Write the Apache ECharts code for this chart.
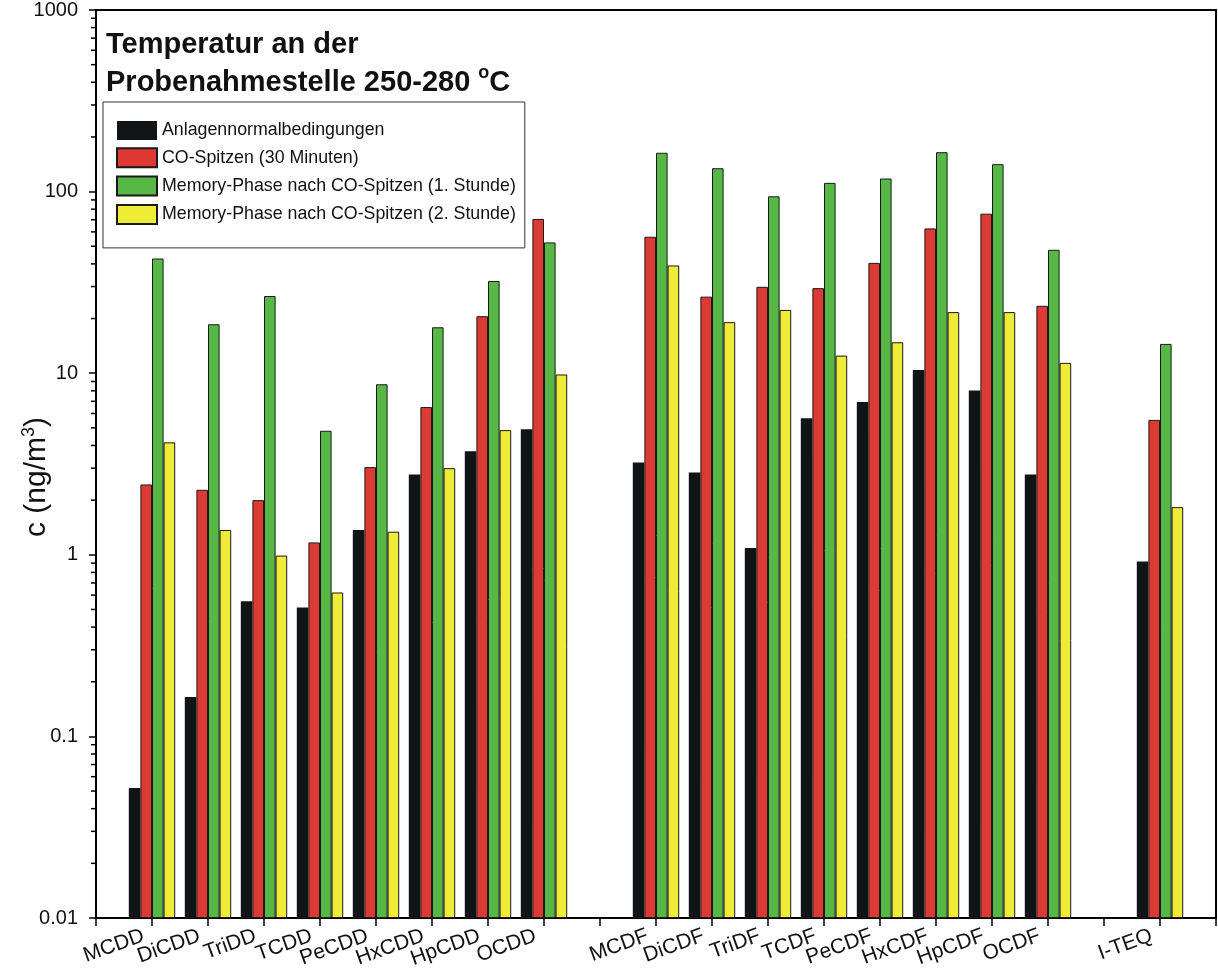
<!DOCTYPE html>
<html>
<head>
<meta charset="utf-8">
<script src="https://cdn.jsdelivr.net/npm/echarts@6/dist/echarts.min.js"></script>
<style>
html,body{margin:0;padding:0;background:#fff;}
#chart{width:1218px;height:977px;}
</style>
</head>
<body>
<div id="chart"></div>
<script>
// Categories (blank entries are spacer slots between the groups)
const categories = [' ', 'MCDD', 'DiCDD', 'TriDD', 'TCDD', 'PeCDD', 'HxCDD', 'HpCDD', 'OCDD', '  ',
  'MCDF', 'DiCDF', 'TriDF', 'TCDF', 'PeCDF', 'HxCDF', 'HpCDF', 'OCDF', '   ', 'I-TEQ', '    '];

const seriesNames = [
  'Anlagennormalbedingungen',
  'CO-Spitzen (30 Minuten)',
  'Memory-Phase nach CO-Spitzen (1. Stunde)',
  'Memory-Phase nach CO-Spitzen (2. Stunde)'
];

// values in ng/m3
const normal  = [null, 0.052, 0.165, 0.555, 0.512, 1.37, 2.77, 3.72, 4.91, null,
  3.22, 2.84, 1.09, 5.64, 6.94, 10.4, 8.02, 2.77, null, 0.92, null];
const coPeak  = [null, 2.44, 2.28, 2.0, 1.17, 3.04, 6.51, 20.6, 70.7, null,
  56.4, 26.4, 29.9, 29.4, 40.5, 62.7, 75.6, 23.5, null, 5.53, null];
const memory1 = [null, 42.8, 18.6, 26.6, 4.82, 8.69, 17.9, 32.2, 52.5, null,
  163.6, 134.5, 94.2, 111.7, 118, 164.8, 141.6, 47.8, null, 14.5, null];
const memory2 = [null, 4.16, 1.37, 0.99, 0.62, 1.34, 3.0, 4.86, 9.84, null,
  39.2, 19.1, 22.3, 12.5, 14.8, 21.7, 21.7, 11.4, null, 1.83, null];

// minor tick positions of the logarithmic y axis
const minorTicks = [0.02, 0.03, 0.04, 0.05, 0.06, 0.07, 0.08, 0.09,
  0.2, 0.3, 0.4, 0.5, 0.6, 0.7, 0.8, 0.9,
  2, 3, 4, 5, 6, 7, 8, 9,
  20, 30, 40, 50, 60, 70, 80, 90,
  200, 300, 400, 500, 600, 700, 800, 900];

const colors = ['#101417', '#de3a33', '#57b846', '#efec37'];
const valueSets = [normal, coPeak, memory1, memory2];

const FONT = 'Liberation Sans, Arial, Helvetica, sans-serif';

const chart = echarts.init(document.getElementById('chart'), null, {renderer: 'canvas'});

const barSeries = valueSets.map((vals, i) => ({
  name: seriesNames[i],
  type: 'bar',
  data: vals,
  barWidth: 11.6,
  barGap: '0%',
  itemStyle: {
    color: colors[i],
    borderColor: i === 0 ? colors[0] : '#1a1a1a',
    borderWidth: i === 0 ? 0 : 1
  },
  emphasis: {disabled: true}
}));

const option = {
  backgroundColor: '#ffffff',
  animation: false,
  textStyle: {fontFamily: FONT},
  title: {
    text: 'Temperatur an der\nProbenahmestelle 250-280 {sup|o}C',
    left: 101,
    top: 21,
    textStyle: {
      fontFamily: FONT,
      fontSize: 29,
      fontWeight: 'bold',
      color: '#111',
      lineHeight: 38,
      rich: {
        sup: {fontFamily: FONT, fontSize: 18, fontWeight: 'bold', color: '#111', verticalAlign: 'top', lineHeight: 24}
      }
    }
  },
  legend: {
    data: seriesNames,
    orient: 'vertical',
    left: 103,
    top: 102,
    padding: [19, 9, 23, 13],
    itemWidth: 40,
    itemHeight: 19,
    itemGap: 7.3,
    itemTextGap: 9,
    backgroundColor: '#fff',
    borderColor: '#333',
    borderWidth: 1,
    icon: 'rect',
    selectedMode: false,
    textStyle: {fontFamily: FONT, fontSize: 17.8, lineHeight: 19, color: '#111'}
  },
  grid: {
    left: 96, right: 2, top: 10, bottom: 59,
    containLabel: false,
    outerBoundsMode: 'none',
    show: true,
    borderColor: '#000',
    borderWidth: 2,
    backgroundColor: 'transparent'
  },
  xAxis: {
    type: 'category',
    data: categories,
    boundaryGap: false,
    axisLine: {lineStyle: {color: '#000', width: 2}},
    axisTick: {show: true, interval: 0, length: 8, lineStyle: {color: '#000', width: 1.5}},
    axisLabel: {
      interval: 0, rotate: 20, margin: 14,
      padding: [0, 9, 0, 0],
      fontFamily: FONT, fontSize: 21, color: '#111',
      hideOverlap: false
    },
    splitLine: {show: false}
  },
  yAxis: {
    type: 'log',
    logBase: 10,
    min: 0.01,
    max: 1000,
    startValue: 0.01,
    name: 'c (ng/m{sup|3})',
    nameLocation: 'middle',
    nameRotate: 90,
    nameGap: 42,
    nameMoveOverlap: false,
    nameTextStyle: {
      fontFamily: FONT, fontSize: 30, color: '#111', lineHeight: 34,
      padding: [0, 26, 0, 0],
      rich: {sup: {fontFamily: FONT, fontSize: 18, color: '#111', verticalAlign: 'top', lineHeight: 20}}
    },
    axisLine: {show: true, lineStyle: {color: '#000', width: 2}},
    axisTick: {show: true, inside: false, length: 7, lineStyle: {color: '#000', width: 1.5}},
    axisLabel: {
      margin: 18, fontFamily: FONT, fontSize: 20, color: '#111',
      formatter: function (v) { return String(+v.toPrecision(6)); }
    },
    splitLine: {show: false}
  },
  series: barSeries.concat([{
    type: 'custom',
    name: 'minorTicks',
    clip: false,
    silent: true,
    encode: {x: 0, y: 1},
    data: minorTicks.map(v => [0, v]),
    renderItem: function (params, api) {
      const p = api.coord([0, api.value(1)]);
      return {
        type: 'line',
        shape: {x1: p[0] - 5, y1: p[1], x2: p[0], y2: p[1]},
        style: {stroke: '#000', lineWidth: 1.5}
      };
    }
  }])
};

chart.setOption(option);
</script>
</body>
</html>
